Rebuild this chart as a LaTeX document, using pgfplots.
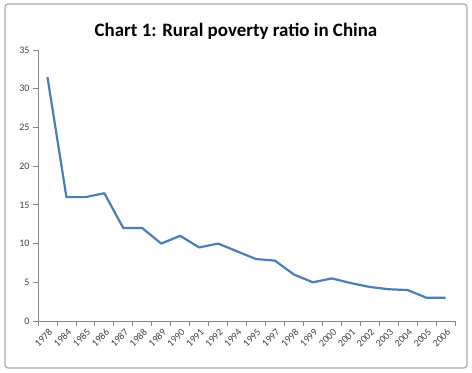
\documentclass[border=0pt]{standalone}
\usepackage{pgfplots}
\pgfplotsset{compat=1.18}
\usepackage{fontspec}
\setmainfont{Carlito}
\definecolor{linecol}{RGB}{74,126,187}
\definecolor{axgray}{RGB}{134,134,134}
\definecolor{txtgray}{RGB}{64,64,64}
\begin{document}
\begin{tikzpicture}[x=1bp,y=1bp]
\path[use as bounding box] (0,0) rectangle (472,372);
\draw[axgray!70, line width=1.2bp, rounded corners=3bp] (5,4) rectangle (467,368);
\node[font=\fontsize{19}{22}\selectfont\bfseries] at (236,341) {Chart 1: Rural poverty ratio in China};
\begin{axis}[
  at={(38bp,51bp)}, anchor=south west,
  scale only axis, width=417bp, height=271bp,
  xmin=-0.5, xmax=21.5, ymin=0, ymax=35,
  axis x line*=bottom, axis y line*=left,
  axis line style={axgray, line width=0.8bp, -},
  xtick={0,...,21},
  xticklabels={1978,1984,1985,1986,1987,1988,1989,1990,1991,1992,1994,1995,1997,1998,1999,2000,2001,2002,2003,2004,2005,2006},
  minor xtick={-0.5,0.5,...,21.5},
  major x tick style={draw=none},
  minor tick length=5bp,
  ytick={0,5,...,35},
  major tick length=5bp,
  tick align=outside,
  tick style={axgray, line width=0.8bp},
  x tick label style={rotate=45, anchor=north east, font=\fontsize{10}{11}\selectfont, text=txtgray, inner sep=1bp, yshift=-1bp},
  y tick label style={font=\fontsize{10}{11}\selectfont, text=txtgray},
  /pgf/number format/assume math mode=true,
  clip=false,
]
\addplot[linecol, line width=2.2bp, line join=round] coordinates {
(0,31.5)(1,16)(2,16)(3,16.5)(4,12)(5,12)(6,10)(7,11)(8,9.5)(9,10)(10,9)(11,8)(12,7.8)(13,6)(14,5)(15,5.5)(16,4.9)(17,4.4)(18,4.1)(19,4)(20,3)(21,3)
};
\end{axis}
\end{tikzpicture}
\end{document}
